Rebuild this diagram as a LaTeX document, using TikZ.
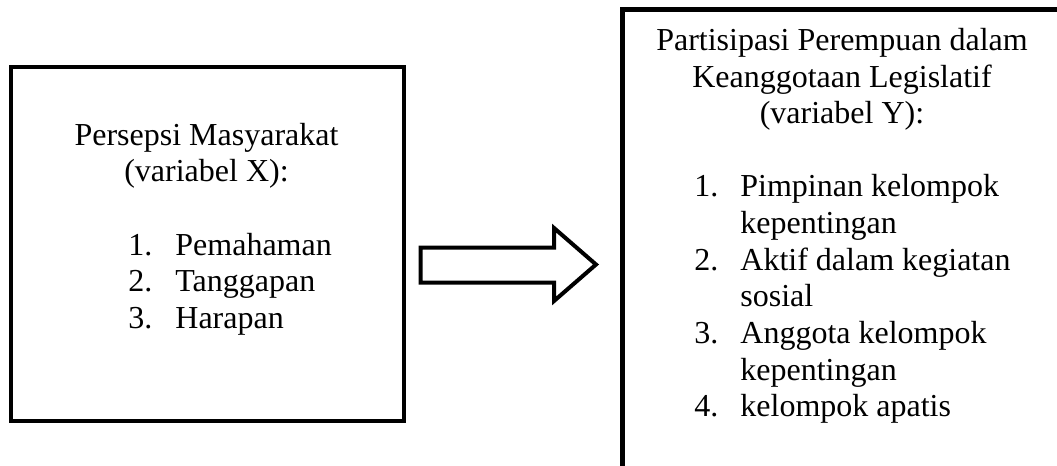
\documentclass[tikz,border=0pt]{standalone}
\usepackage{fontspec}
\setmainfont{Liberation Serif}
\begin{document}
\begin{tikzpicture}[x=0.5pt,y=-0.5pt]
\tikzset{
  txt/.style={inner sep=0pt,anchor=base,font=\fontsize{16}{18}\selectfont},
  num/.style={txt,anchor=base west},
  box/.style={draw,line width=2.2pt},
  bigarrow/.style={draw,line width=2pt,line join=miter},
}
\useasboundingbox (0,0) rectangle (1057,466);
\clip (0,0) rectangle (1057,466);

% variabel X
\draw[box] (11,67) rectangle (404,421);
\node[txt] (xtitle) at (206.5,145) {Persepsi Masyarakat};
\node[txt] (xvar) at (206.5,181.5) {(variabel X):};
\node[num] (x1) at (128,255) {1.};
\node[num] (x2) at (128,291.5) {2.};
\node[num] (x3) at (128,328) {3.};
\node[num] (x1t) at (175,255) {Pemahaman};
\node[num] (x2t) at (175,291.5) {Tanggapan};
\node[num] (x3t) at (175,328) {Harapan};

% arrow
\path[bigarrow] (420.5,247.5) -- (554,247.5) -- (554,228) -- (596,264.5)
  -- (554,301) -- (554,282.5) -- (420.5,282.5) -- cycle;

% variabel Y
\draw[box] (622.5,9.5) rectangle (1070,468);
\node[txt] (ytitle) at (842,50.5) {Partisipasi Perempuan dalam};
\node[txt] (ytitleb) at (842,87) {Keanggotaan Legislatif};
\node[txt] (yvar) at (842,123.5) {(variabel Y):};
\node[num] (y1) at (694,196.5) {1.};
\node[num] (y2) at (694,270) {2.};
\node[num] (y3) at (694,343) {3.};
\node[num] (y4) at (694,416.5) {4.};
\node[num] (y1t) at (740,196.5) {Pimpinan kelompok};
\node[num] (y1b) at (740,233) {kepentingan};
\node[num] (y2t) at (740,270) {Aktif dalam kegiatan};
\node[num] (y2b) at (740,306.5) {sosial};
\node[num] (y3t) at (740,343) {Anggota kelompok};
\node[num] (y3b) at (740,380) {kepentingan};
\node[num] (y4t) at (740,416.5) {kelompok apatis};
\end{tikzpicture}
\end{document}
